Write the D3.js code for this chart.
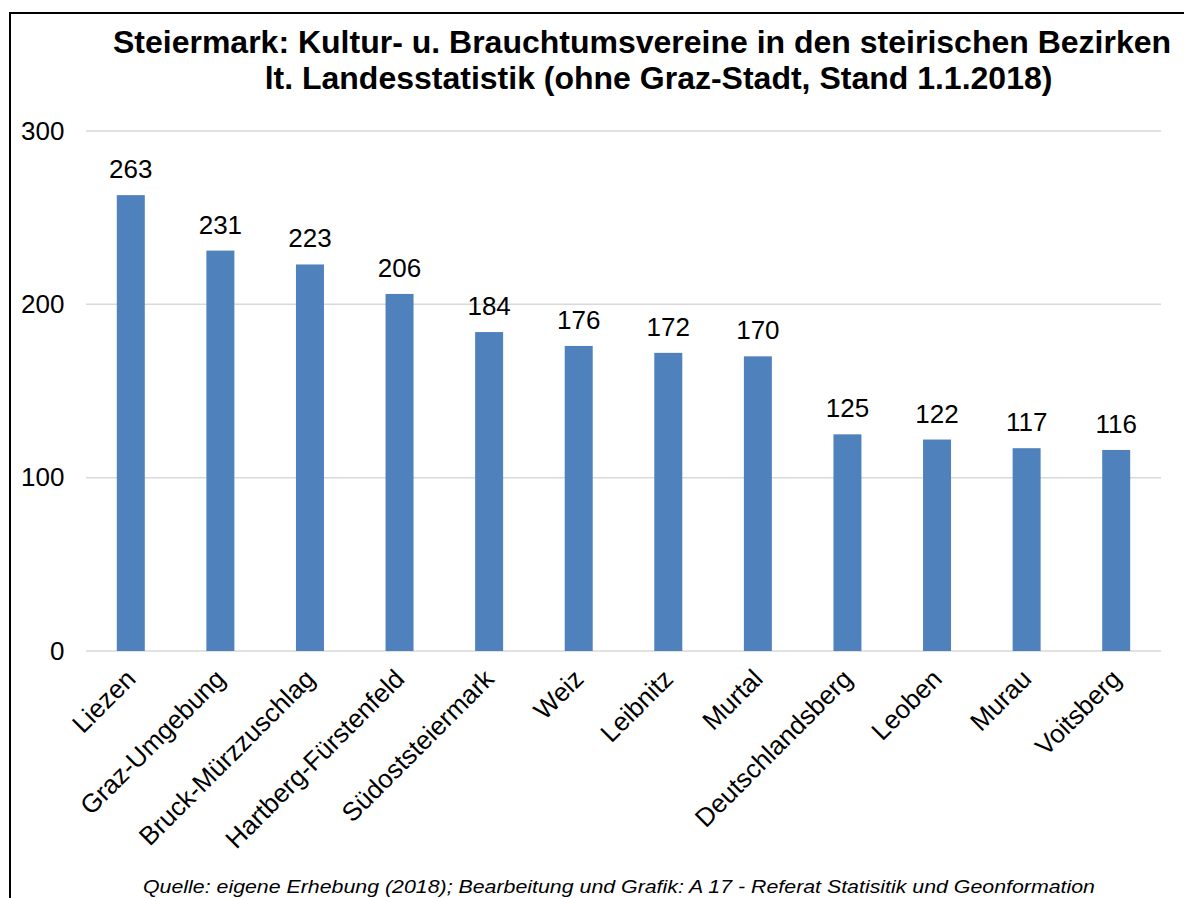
<!DOCTYPE html>
<html>
<head>
<meta charset="utf-8">
<script src="https://cdn.jsdelivr.net/npm/d3@7"></script>
<style>
  html, body { margin: 0; padding: 0; background: #fff; }
  svg { display: block; font-family: "Liberation Sans", Arial, sans-serif; }
</style>
</head>
<body>
<svg id="chart" width="1184" height="898"></svg>
<script>
const categories = ["Liezen", "Graz-Umgebung", "Bruck-Mürzzuschlag", "Hartberg-Fürstenfeld",
  "Südoststeiermark", "Weiz", "Leibnitz", "Murtal", "Deutschlandsberg", "Leoben", "Murau", "Voitsberg"];
const values = [263, 231, 223, 206, 184, 176, 172, 170, 125, 122, 117, 116];
const yTicks = [0, 100, 200, 300];
const titleLines = ["Steiermark: Kultur- u. Brauchtumsvereine in den steirischen Bezirken",
  "lt. Landesstatistik (ohne Graz-Stadt, Stand 1.1.2018)"];
const footnote = "Quelle: eigene Erhebung (2018); Bearbeitung und Grafik: A 17 - Referat Statisitik und Geonformation";

const svg = d3.select("#chart");

// frame
svg.append("rect")
  .attr("x", 10).attr("y", 13).attr("width", 1400).attr("height", 1200)
  .attr("fill", "none").attr("stroke", "#000").attr("stroke-width", 2);

// title
const titleCenters = [642, 658.5];
const titleBaselines = [53, 89];
svg.selectAll("text.title").data(titleLines).join("text")
  .attr("class", "title")
  .attr("x", (d, i) => titleCenters[i])
  .attr("y", (d, i) => titleBaselines[i])
  .attr("text-anchor", "middle")
  .attr("font-size", 32).attr("font-weight", "bold").attr("fill", "#000")
  .text(d => d);

const x = d3.scaleBand().domain(categories).range([86, 1161])
  .paddingInner(0.6875).paddingOuter(0.34375);
const y = d3.scaleLinear().domain([0, 300]).range([651, 131]);

// gridlines
svg.append("g").selectAll("line").data(yTicks).join("line")
  .attr("x1", 86).attr("x2", 1161)
  .attr("y1", d => y(d)).attr("y2", d => y(d))
  .attr("stroke", "#d9d9d9").attr("stroke-width", 1.5);

// y axis labels
const yAxis = svg.append("g").attr("transform", "translate(86,0)")
  .call(d3.axisLeft(y).tickValues(yTicks).tickSize(0).tickPadding(21.5));
yAxis.select(".domain").remove();
yAxis.selectAll("text").attr("font-size", 26).attr("fill", "#000")
  .attr("font-family", "'Liberation Sans', Arial, sans-serif");

// bars
svg.append("g").selectAll("rect").data(values).join("rect")
  .attr("x", (d, i) => x(categories[i]))
  .attr("width", x.bandwidth())
  .attr("y", d => y(d))
  .attr("height", d => y(0) - y(d))
  .attr("fill", "#4f81bd");

// value labels
svg.append("g").selectAll("text").data(values).join("text")
  .attr("x", (d, i) => x(categories[i]) + x.bandwidth() / 2)
  .attr("y", d => y(d) - 17)
  .attr("text-anchor", "middle")
  .attr("font-size", 26).attr("fill", "#000")
  .text(d => d);

// x axis labels
const xAxis = svg.append("g").attr("transform", "translate(0,651)")
  .call(d3.axisBottom(x).tickSize(0).tickPadding(0));
xAxis.select(".domain").remove();
xAxis.selectAll("text")
  .attr("font-size", 26).attr("fill", "#000")
  .attr("font-family", "'Liberation Sans', Arial, sans-serif")
  .attr("text-anchor", "end")
  .attr("y", 0).attr("dy", "0.35em")
  .attr("transform", "translate(0,23) rotate(-45)");

// footnote
svg.append("text")
  .attr("x", 619).attr("y", 893)
  .attr("text-anchor", "middle")
  .attr("font-size", 19).attr("font-style", "italic").attr("fill", "#000")
  .attr("textLength", 952).attr("lengthAdjust", "spacingAndGlyphs")
  .text(footnote);
</script>
</body>
</html>
